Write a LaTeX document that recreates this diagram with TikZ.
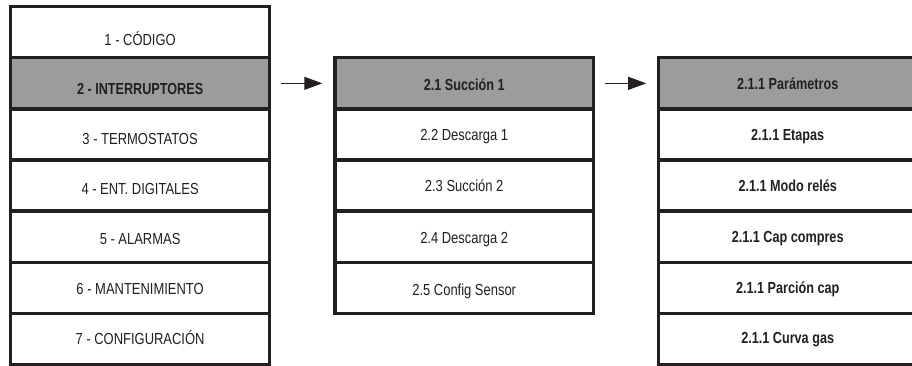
\documentclass[tikz,border=0pt]{standalone}
\usepackage{fontspec}
\setmainfont{Liberation Sans}[FakeStretch=0.81,BoldFeatures={FakeStretch=0.79}]
\usetikzlibrary{arrows.meta}
\definecolor{ink}{RGB}{35,31,32}
\definecolor{selgray}{RGB}{155,156,158}
\tikzset{
  cell/.style={draw=ink, line width=3.3pt, fill=white, text=ink,
    minimum width=258.6pt, minimum height=51.1pt, inner sep=0pt,
    text height=11.46pt, text depth=0pt,
    font=\fontsize{16pt}{18pt}\selectfont},
  selcell/.style={cell, fill=selgray, font=\fontsize{16pt}{18pt}\selectfont\bfseries},
  boldcell/.style={cell, font=\fontsize{16pt}{18pt}\selectfont\bfseries},
  % lowers the line of capitals inside a cell (box height = caps + 2 x drop)
  lowtext/.style={text height=#1},
  nextarrow/.style={draw=ink, line width=1.1pt, -{Triangle[length=18pt,width=13pt]}}
}
\begin{document}
\begin{tikzpicture}[x=1pt, y=-1pt]
\useasboundingbox (0,0) rectangle (912,366);
\clip (0,0) rectangle (912,366);
\fill[white] (0,0) rectangle (912,366);

% main menu
\node[cell, lowtext=25.86pt]    (l1) at (140.1, 32.25)  {1 - CÓDIGO};
\node[selcell, lowtext=23.06pt] (l2) at (140.1, 83.35)  {2 - INTERRUPTORES};
\node[cell, lowtext=20.86pt]    (l3) at (140.1, 134.45) {3 - TERMOSTATOS};
\node[cell, lowtext=18.66pt]    (l4) at (140.1, 185.55) {4 - ENT. DIGITALES};
\node[cell, lowtext=16.46pt]    (l5) at (140.1, 236.65) {5 - ALARMAS};
\node[cell, lowtext=14.26pt]    (l6) at (140.1, 287.75) {6 - MANTENIMIENTO};
\node[cell, lowtext=12.06pt]    (l7) at (140.1, 338.85) {7 - CONFIGURACIÓN};

% switches submenu
\node[selcell, lowtext=13.5pt] (m1) at (464.2, 83.35)  {2.1 Succión 1};
\node[cell]                    (m2) at (464.2, 134.45) {2.2 Descarga 1};
\node[cell, lowtext=12.5pt]    (m3) at (464.2, 185.55) {2.3 Succión 2};
\node[cell, lowtext=13pt]      (m4) at (464.2, 236.65) {2.4 Descarga 2};
\node[cell, lowtext=14.5pt]    (m5) at (464.2, 287.75) {2.5 Config Sensor};

% suction 1 parameters
\node[selcell]  (r1) at (787.7, 83.35)  {2.1.1 Parámetros};
\node[boldcell] (r2) at (787.7, 134.45) {2.1.1 Etapas};
\node[boldcell] (r3) at (787.7, 185.55) {2.1.1 Modo relés};
\node[boldcell] (r4) at (787.7, 236.65) {2.1.1 Cap compres};
\node[boldcell] (r5) at (787.7, 287.75) {2.1.1 Parción cap};
\node[boldcell, lowtext=9.5pt] (r6) at (787.7, 338.85) {2.1.1 Curva gas};

% navigation arrows
\draw[nextarrow, shorten <=10pt, shorten >=11pt] (l2) -- (m1);
\draw[nextarrow, shorten <=10pt, shorten >=10.6pt] (m1) -- (r1);
\end{tikzpicture}
\end{document}
